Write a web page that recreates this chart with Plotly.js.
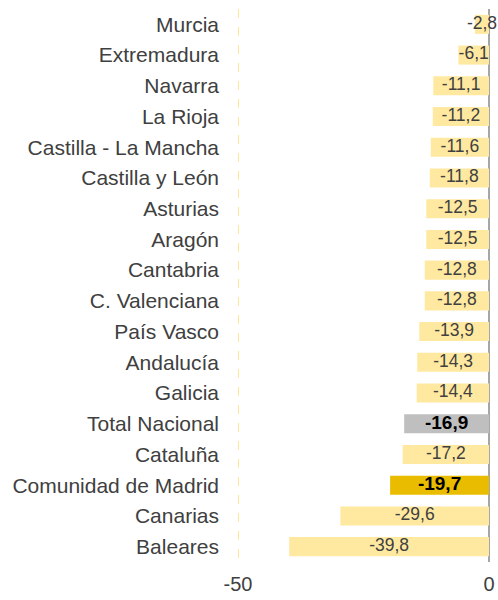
<!DOCTYPE html>
<html><head><meta charset="utf-8">
<script src="https://cdn.plot.ly/plotly-3.0.1.min.js"></script>
<style>html,body{margin:0;padding:0;background:#fff}#c{width:498px;height:600px}</style>
</head><body><div id="c"></div>
<script>
const regions = ["Murcia","Extremadura","Navarra","La Rioja","Castilla - La Mancha","Castilla y León","Asturias","Aragón","Cantabria","C. Valenciana","País Vasco","Andalucía","Galicia","Total Nacional","Cataluña","Comunidad de Madrid","Canarias","Baleares"];
const values = [-2.8,-6.1,-11.1,-11.2,-11.6,-11.8,-12.5,-12.5,-12.8,-12.8,-13.9,-14.3,-14.4,-16.9,-17.2,-19.7,-29.6,-39.8];
const highlightTotal = "Total Nacional";
const highlightMadrid = "Comunidad de Madrid";
const xTickVals = [-50, 0];
const xTickText = ["-50", "0"];

const FONT = 'Liberation Sans';
const colors = regions.map(r => r === highlightTotal ? "#BFBFBF" : (r === highlightMadrid ? "#E9BC00" : "#FFE9A0"));
const labels = values.map(v => v.toFixed(1).replace('.', ','));
const bold = regions.map(r => r === highlightTotal || r === highlightMadrid);

const bars = {
  type: 'bar', orientation: 'h', y: regions, x: values,
  marker: {color: colors, line: {width: 0}}, hoverinfo: 'none'
};
const txtNormal = {
  type: 'scatter', mode: 'text',
  y: regions.filter((r,i)=>!bold[i]), x: values.filter((v,i)=>!bold[i]).map(v=>v/2),
  text: labels.filter((t,i)=>!bold[i]),
  textfont: {family: FONT, size: 17.5, color: '#404040'},
  textposition: 'middle center', cliponaxis: false, hoverinfo: 'none'
};
const txtBold = {
  type: 'scatter', mode: 'text',
  y: regions.filter((r,i)=>bold[i]), x: values.filter((v,i)=>bold[i]).map(v=>v/2),
  text: labels.filter((t,i)=>bold[i]).map(t=>'<b>'+t+'</b>'),
  textfont: {family: FONT, size: 19, color: '#000000'},
  textposition: 'middle center', cliponaxis: false, hoverinfo: 'none'
};

const layout = {
  width: 498, height: 600,
  margin: {l: 236, r: 9, t: 9, b: 38},
  paper_bgcolor: '#fff', plot_bgcolor: '#fff',
  showlegend: false, bargap: 0.38,
  font: {family: FONT, color: '#404040'},
  xaxis: {
    range: [-50.4, 0], tickvals: xTickVals, ticktext: xTickText, automargin: false,
    showgrid: true, gridcolor: '#FFE699', griddash: 'dash', gridwidth: 1,
    zeroline: true, zerolinecolor: '#A6A6A6', zerolinewidth: 1.5, ticklabelstandoff: 8,
    showline: false, ticks: '', tickfont: {family: FONT, size: 20, color: '#404040'}, fixedrange: true
  },
  yaxis: {
    range: [regions.length - 0.5, -0.5], type: 'category', showgrid: false, zeroline: false, automargin: false,
    showline: false, ticks: '', ticklabelstandoff: 16,
    tickfont: {family: FONT, size: 21, color: '#404040'}, fixedrange: true
  }
};
Plotly.newPlot('c', [bars, txtNormal, txtBold], layout, {displayModeBar: false, staticPlot: true});
</script></body></html>
